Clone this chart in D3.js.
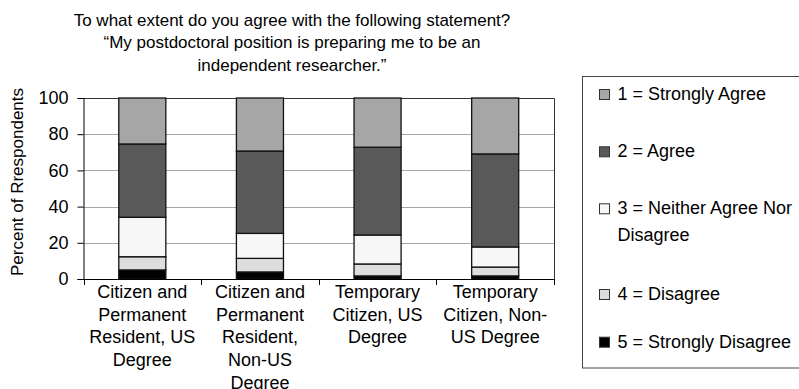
<!DOCTYPE html>
<html>
<head>
<meta charset="utf-8">
<script src="https://cdn.jsdelivr.net/npm/d3@7"></script>
<style>
  body { margin: 0; background: #fff; }
  text { font-family: "Liberation Sans", Arial, sans-serif; fill: #000; }
</style>
</head>
<body>
<div id="chart"></div>
<script>
// categories (each label split in lines like the original)
var categories = ["CP-US", "CP-NonUS", "T-US", "T-NonUS"];
var categoryLabels = [
    ["Citizen and", "Permanent", "Resident, US", "Degree"],
    ["Citizen and", "Permanent", "Resident,", "Non-US", "Degree"],
    ["Temporary", "Citizen, US", "Degree"],
    ["Temporary", "Citizen, Non-", "US Degree"]
];

// percent of respondents, per answer
var stronglyDisagree = [5.0, 3.9, 1.7, 1.7];
var disagree         = [7.3, 7.5, 6.6, 4.9];
var neither          = [21.8, 13.8, 16.0, 11.1];
var agree            = [40.5, 45.5, 48.5, 51.4];
var stronglyAgree    = [25.4, 29.3, 27.2, 30.9];

var seriesKeys   = ["s5", "s4", "s3", "s2", "s1"];
var seriesNames  = ["5 = Strongly Disagree", "4 = Disagree", "3 = Neither Agree Nor Disagree", "2 = Agree", "1 = Strongly Agree"];
var seriesColors = ["#000000", "#dddddd", "#f7f7f7", "#595959", "#a6a6a6"];
var yTicks = [0, 20, 40, 60, 80, 100];

var titleLines = [
    "To what extent do you agree with the following statement?",
    "\u201cMy postdoctoral position is preparing me to be an",
    "independent researcher.\u201d"
];

// build table for d3.stack
var table = categories.map(function(c, i) {
    return { cat: c, s5: stronglyDisagree[i], s4: disagree[i], s3: neither[i], s2: agree[i], s1: stronglyAgree[i] };
});

var W = 799, H = 389;
var plot = { left: 83.5, right: 554, top: 98, bottom: 279 };

var svg = d3.select("#chart").append("svg")
    .attr("width", W)
    .attr("height", H);

var x = d3.scaleBand()
    .domain(categories)
    .range([plot.left, plot.right])
    .paddingInner(0.6)
    .paddingOuter(0.3);

var y = d3.scaleLinear()
    .domain([0, 100])
    .range([plot.bottom, plot.top]);

// gridlines
svg.append("g")
    .selectAll("line")
    .data(yTicks.filter(function(d) { return d > 0 && d < 100; }))
    .join("line")
    .attr("x1", plot.left).attr("x2", plot.right)
    .attr("y1", function(d) { return Math.round(y(d)) + 0.5; })
    .attr("y2", function(d) { return Math.round(y(d)) + 0.5; })
    .attr("stroke", "#a6a6a6")
    .attr("stroke-width", 1);

// top + right frame of plot area
svg.append("path")
    .attr("d", "M" + plot.left + "," + (plot.top + 0.5) + "H" + (plot.right + 0.5) + "V" + plot.bottom)
    .attr("fill", "none")
    .attr("stroke", "#333")
    .attr("stroke-width", 1);

// stacked bars
var stacked = d3.stack().keys(seriesKeys)(table);

svg.append("g")
    .selectAll("g")
    .data(stacked)
    .join("g")
    .attr("fill", function(d, i) { return seriesColors[i]; })
    .selectAll("rect")
    .data(function(d) { return d; })
    .join("rect")
    .attr("x", function(d) { return x(d.data.cat); })
    .attr("y", function(d) { return y(d[1]); })
    .attr("width", x.bandwidth())
    .attr("height", function(d) { return y(d[0]) - y(d[1]); })
    .attr("stroke", "#111")
    .attr("stroke-width", 1.3);

// y axis
var yAxis = svg.append("g")
    .attr("transform", "translate(" + plot.left + ",0)")
    .call(d3.axisLeft(y).tickValues(yTicks).tickSize(6).tickPadding(9));
yAxis.selectAll("text").style("font-size", "18px").attr("font-family", null);
yAxis.selectAll("path,line").attr("stroke", "#000");

// x axis: ticks at category boundaries
svg.append("line")
    .attr("x1", plot.left).attr("x2", plot.right + 0.5)
    .attr("y1", plot.bottom + 0.5).attr("y2", plot.bottom + 0.5)
    .attr("stroke", "#000");
var edges = d3.range(categories.length + 1).map(function(i) { return plot.left + i * (plot.right - plot.left) / categories.length; });
svg.append("g")
    .selectAll("line")
    .data(edges)
    .join("line")
    .attr("x1", function(d) { return Math.round(d) + 0.5; })
    .attr("x2", function(d) { return Math.round(d) + 0.5; })
    .attr("y1", plot.bottom).attr("y2", plot.bottom + 6)
    .attr("stroke", "#000");

// category labels
svg.append("g")
    .selectAll("text")
    .data(categories)
    .join("text")
    .attr("text-anchor", "middle")
    .style("font-size", "18px")
    .attr("x", function(d) { return x(d) + x.bandwidth() / 2; })
    .attr("y", 298)
    .each(function(d, i) {
        var t = d3.select(this);
        categoryLabels[i].forEach(function(line, j) {
            t.append("tspan")
                .attr("x", x(d) + x.bandwidth() / 2)
                .attr("dy", j === 0 ? 0 : 22.7)
                .text(line);
        });
    });

// y axis title
svg.append("text")
    .attr("transform", "translate(23,182) rotate(-90)")
    .attr("text-anchor", "middle")
    .style("font-size", "17px")
    .text("Percent of Rrespondents");

// chart title
svg.append("g")
    .selectAll("text")
    .data(titleLines)
    .join("text")
    .attr("x", 292)
    .attr("y", function(d, i) { return 25.5 + i * 22.5; })
    .attr("text-anchor", "middle")
    .style("font-size", "17px")
    .text(function(d) { return d; });

// legend
svg.append("rect")
    .attr("x", 582.5).attr("y", 76.5)
    .attr("width", 230).attr("height", 291.5)
    .attr("fill", "#fff")
    .attr("stroke", "#444");

var legendOrder = [4, 3, 2, 1, 0];
var legendBaselines = [100, 157.3, 214.3, 300, 347.7];
var legendLines = {
    2: ["3 = Neither Agree Nor", "Disagree"]
};

var leg = svg.append("g")
    .selectAll("g")
    .data(legendOrder)
    .join("g")
    .attr("transform", function(d, i) { return "translate(0," + legendBaselines[i] + ")"; });

leg.append("rect")
    .attr("x", 599.5).attr("y", -10.5)
    .attr("width", 10).attr("height", 10)
    .attr("fill", function(d) { return seriesColors[d]; })
    .attr("stroke", "#333");

leg.append("text")
    .attr("x", 617.5)
    .style("font-size", "18px")
    .each(function(d) {
        var t = d3.select(this);
        var lines = legendLines[d] || [seriesNames[d]];
        lines.forEach(function(line, j) {
            t.append("tspan")
                .attr("x", 617.5)
                .attr("dy", j === 0 ? 0 : 26.7)
                .text(line);
        });
    });
</script>
</body>
</html>
